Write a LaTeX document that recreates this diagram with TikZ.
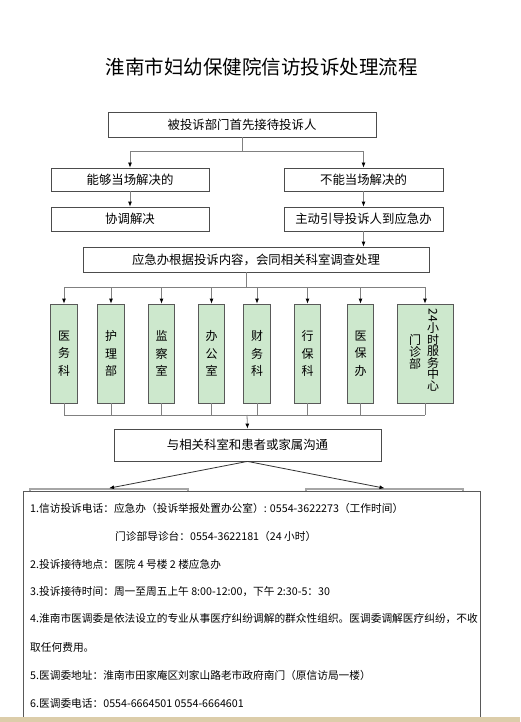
\documentclass[tikz,border=0pt]{standalone}
\usepackage{fontspec}
\usepackage{graphicx}
\setmainfont{Noto Sans CJK SC}
\usetikzlibrary{arrows.meta}
\definecolor{deptgreen}{HTML}{CDE8CD}
\definecolor{stripcolor}{HTML}{DCCDAA}
\newcommand{\InfoLine}[3]{\node[infotext] (#1) at #2 {#3};}
\tikzset{
  box/.style={draw=black!70, line width=0.8pt, inner sep=0pt, font=\fontsize{12.4}{14}\selectfont},
  deptbox/.style={draw=black!65, fill=deptgreen, line width=0.8pt, minimum width=26.5pt,
    minimum height=99pt, inner sep=0pt, align=center, font=\fontsize{12}{17.5}\selectfont},
  link/.style={draw=black!50, line width=0.8pt},
  arr/.style={link, -{Latex[length=5pt,width=4pt,color=black]}},
  infotext/.style={anchor=west, inner sep=0pt, font=\fontsize{10.7}{12}\selectfont},
}

\begin{document}
\begin{tikzpicture}[x=1pt, y=-1pt]
    \useasboundingbox (0,0) rectangle (520,722);
    \fill[white] (0,0) rectangle (520,722);
    \node[font=\fontsize{19.5}{23}\selectfont] (title) at (261.5,67) {淮南市妇幼保健院信访投诉处理流程};
    %
    \node[box, minimum width=268pt, minimum height=25pt] (first) at (242,124.5) {被投诉部门首先接待投诉人};
    \node[box, minimum width=158pt, minimum height=23pt] (canA) at (130,179.5) {能够当场解决的};
    \node[box, minimum width=159pt, minimum height=23pt] (canB) at (363.5,179.5) {不能当场解决的};
    \node[box, minimum width=158pt, minimum height=24pt] (solve) at (130,219) {协调解决};
    \node[box, minimum width=159pt, minimum height=24pt] (guide) at (363.5,219) {主动引导投诉人到应急办};
    \node[box, minimum width=346pt, minimum height=25pt] (joint) at (256,259.5) {应急办根据投诉内容，会同相关科室调查处理};
    %
    \draw[link] (first.south) -- ++(0,14) coordinate (fork);
    \draw[arr] (fork) -| (canA.north);
    \draw[arr] (fork) -| (canB.north);
    \draw[arr] (canA.south) -- (solve.north);
    \draw[arr] (canB.south) -- (guide.north);
    \draw[arr] (guide.south) -- (guide.south |- joint.north);
    %
    \foreach \x/\n/\t in {64/d1/{医\\务\\科}, 111/d2/{护\\理\\部}, 161.5/d3/{监\\察\\室},
        211.5/d4/{办\\公\\室}, 257/d5/{财\\务\\科}, 307.5/d6/{行\\保\\科}, 360.5/d7/{医\\保\\办}}
      \node[deptbox] (\n) at (\x,353.5) {\t};
    \node[deptbox, minimum width=56pt] (d8) at (425,353.5) {};
    \node[inner sep=0pt, align=center, font=\fontsize{12}{11.5}\selectfont] (d8r) at (433,350)
      {\rotatebox{-90}{24}\\小\\时\\服\\务\\中\\心};
    \node[inner sep=0pt, align=center, font=\fontsize{12}{12}\selectfont] (d8l) at (415,352) {门\\诊\\部};
    %
    \coordinate (split) at (246,287);
    \draw[link] (split |- joint.south) -- (split);
    \draw[link] (d1.north |- split) -- (d8.north |- split);
    \foreach \i in {1,...,8}
      \draw[arr] (d\i.north |- split) -- (d\i.north);
    %
    \coordinate (merge) at (247,415);
    \foreach \i in {1,...,8}
      \draw[link] (d\i.south) -- (d\i.south |- merge);
    \draw[link] (d1.south |- merge) -- (d8.south |- merge);
    \node[box, minimum width=267pt, minimum height=32pt] (comm) at (247.5,445) {与相关科室和患者或家属沟通};
    \draw[arr] (merge) -- (comm.north);
    %
    \node[draw=black!35, line width=1.6pt, minimum width=158pt, minimum height=30pt, inner sep=0pt] (resL) at (109,504) {};
    \node[draw=black!35, line width=1.6pt, minimum width=157pt, minimum height=30pt, inner sep=0pt] (resR) at (384.5,504) {};
    \draw[arr, draw=black!80] (comm.south) -- (resL.north);
    \draw[arr, draw=black!80] (comm.south) -- (resR.north);
    %
    \node[draw=black!65, fill=white, line width=0.8pt, minimum width=457pt, minimum height=229pt,
      inner sep=0pt, anchor=north west] (info) at (23,491) {};
    \InfoLine{t1}{(30,508)}{1.信访投诉电话：应急办（投诉举报处置办公室）: 0554-3622273（工作时间）}
    \InfoLine{t2}{(115,536)}{门诊部导诊台：0554-3622181（24 小时）}
    \InfoLine{t3}{(30,564)}{2.投诉接待地点：医院 4 号楼 2 楼应急办}
    \InfoLine{t4}{(30,592)}{3.投诉接待时间：周一至周五上午 8:00-12:00，下午 2:30-5：30}
    \InfoLine{t5}{(30,619)}{4.淮南市医调委是依法设立的专业从事医疗纠纷调解的群众性组织。医调委调解医疗纠纷，不收}
    \InfoLine{t6}{(30,647)}{取任何费用。}
    \InfoLine{t7}{(30,675)}{5.医调委地址：淮南市田家庵区刘家山路老市政府南门（原信访局一楼）}
    \InfoLine{t8}{(30,703)}{6.医调委电话：0554-6664501 0554-6664601}
    %
    \fill[stripcolor] (0,717) rectangle (520,722);
  \end{tikzpicture}
\end{document}
